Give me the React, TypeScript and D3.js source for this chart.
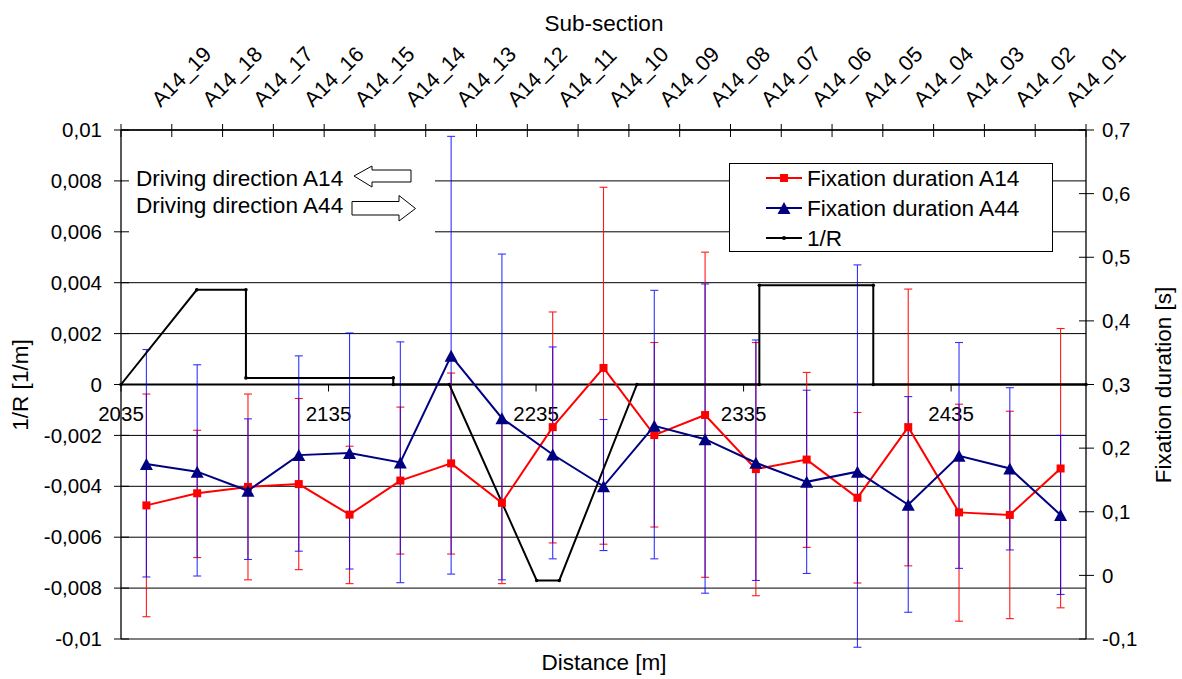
import React from 'react';
import * as d3 from 'd3';

const subSections = ['A14_19','A14_18','A14_17','A14_16','A14_15','A14_14','A14_13','A14_12','A14_11','A14_10','A14_09','A14_08','A14_07','A14_06','A14_05','A14_04','A14_03','A14_02','A14_01'];

const fixA14 = [0.110,0.129,0.139,0.1435,0.0955,0.149,0.176,0.114,0.233,0.326,0.2205,0.252,0.167,0.182,0.122,0.233,0.099,0.095,0.168];
const fixA14Low = [-0.065,0.028,-0.007,0.009,-0.013,0.0335,0.0335,-0.013,0.051,0.049,0.076,-0.003,-0.032,0.044,-0.012,0.015,-0.072,-0.068,-0.051];
const fixA14High = [0.285,0.228,0.285,0.278,0.203,0.2645,0.318,0.241,0.414,0.610,0.366,0.508,0.366,0.319,0.256,0.450,0.269,0.258,0.388];

const fixA44 = [0.175,0.163,0.133,0.189,0.1925,0.1775,0.345,0.247,0.190,0.140,0.235,0.214,0.177,0.147,0.163,0.111,0.188,0.168,0.095];
const fixA44Low = [-0.0025,-0.001,0.025,0.038,0.010,-0.0115,0.002,-0.007,0.026,0.039,0.026,-0.028,-0.008,0.003,-0.113,-0.058,0.011,0.040,-0.030];
const fixA44High = [0.355,0.331,0.246,0.345,0.381,0.367,0.690,0.505,0.359,0.245,0.448,0.458,0.370,0.291,0.488,0.281,0.366,0.295,0.220];

const curveDistance = [2035,2071.5,2095.2,2095.2,2166.2,2166.2,2193.2,2235.3,2246.2,2283.6,2342.6,2342.6,2397.5,2397.5,2500];
const curveInvR = [0,0.00372,0.00372,0.00026,0.00026,0,0,-0.0077,-0.0077,0,0,0.0039,0.0039,0,0];

const leftTicks = [-0.01,-0.008,-0.006,-0.004,-0.002,0,0.002,0.004,0.006,0.008,0.01];
const rightTicks = [-0.1,0,0.1,0.2,0.3,0.4,0.5,0.6,0.7];
const distanceTicks = [2035,2135,2235,2335,2435];

const FONT = '"Liberation Sans", Arial, Helvetica, sans-serif';
const RED = '#ff0000';
const NAVY = '#000080';
const BLUE = '#0000ff';

const L = 121, R = 1086, T = 130, B = 639;

export default function App() {
  const xDist = d3.scaleLinear().domain([2035, 2500]).range([L, R]);
  const xCat = d3.scaleBand().domain(subSections).range([L, R]);
  const cx = (s: string) => (xCat(s) as number) + xCat.bandwidth() / 2;
  const yLeft = d3.scaleLinear().domain([-0.01, 0.01]).range([B, T]);
  const yRight = d3.scaleLinear().domain([-0.1, 0.7]).range([B, T]);
  const fmt = (v: number) => String(v).replace('.', ',');

  const curvePts: [number, number][] = curveDistance.map((d, i) => [xDist(d), yLeft(curveInvR[i])]);
  const lineGen = d3.line();
  const redPts: [number, number][] = subSections.map((s, i) => [cx(s), yRight(fixA14[i])]);
  const bluePts: [number, number][] = subSections.map((s, i) => [cx(s), yRight(fixA44[i])]);

  const tri = (x: number, y: number, hw = 6.5, hh = 6) => `M${x},${y - hh}L${x + hw},${y + hh}L${x - hw},${y + hh}Z`;

  const errBars = (low: number[], high: number[], color: string, op: number) =>
    subSections.map((s, i) => {
      const x = cx(s);
      const y1 = yRight(low[i]);
      const y2 = yRight(high[i]);
      return (
        <g key={'e' + color + i} stroke={color} strokeWidth={1.1} opacity={op}>
          <line x1={x} x2={x} y1={y1} y2={y2} />
          <line x1={x - 4} x2={x + 4} y1={y1} y2={y1} />
          <line x1={x - 4} x2={x + 4} y1={y2} y2={y2} />
        </g>
      );
    });

  return (
    <svg width={1182} height={679} style={{ position: 'absolute', left: 0, top: 0, background: '#fff' }} fontFamily={FONT}>
      <rect x={0} y={0} width={1182} height={679} fill="#fff" />
      {/* gridlines */}
      {leftTicks.map((v) => (
        <line key={'g' + v} x1={L} x2={R} y1={yLeft(v)} y2={yLeft(v)} stroke="#000" strokeWidth={1} />
      ))}
      {/* text box background */}
      <rect x={L + 1} y={140} width={313} height={104} fill="#fff" />
      {/* left axis */}
      <line x1={L} x2={L} y1={T} y2={B} stroke="#000" strokeWidth={1.3} />
      {leftTicks.map((v) => (
        <g key={'lt' + v}>
          <line x1={L - 7} x2={L + 8} y1={yLeft(v)} y2={yLeft(v)} stroke="#000" />
          <text x={102} y={yLeft(v)} dy="0.35em" textAnchor="end" fontSize={20.5}>{fmt(v)}</text>
        </g>
      ))}
      {/* right axis */}
      <line x1={R} x2={R} y1={T} y2={B} stroke="#000" strokeWidth={1.3} />
      {rightTicks.map((v) => (
        <g key={'rt' + v}>
          <line x1={R - 7} x2={R + 8} y1={yRight(v)} y2={yRight(v)} stroke="#000" />
          <text x={1102} y={yRight(v)} dy="0.35em" textAnchor="start" fontSize={20.5}>{fmt(v)}</text>
        </g>
      ))}
      {/* top category axis */}
      <line x1={L} x2={R} y1={T} y2={T} stroke="#000" strokeWidth={1.3} />
      {subSections.map((s, i) => (
        <line key={'tt' + i} x1={xCat(s) as number} x2={xCat(s) as number} y1={T - 6} y2={T + 7} stroke="#000" />
      ))}
      <line x1={R} x2={R} y1={T - 6} y2={T + 7} stroke="#000" />
      {subSections.map((s) => (
        <text key={'tl' + s} transform={`translate(${cx(s) + 14},108) rotate(-45)`} textAnchor="start" fontSize={21.5}>{s}</text>
      ))}
      {/* bottom distance axis at 0 */}
      <line x1={L} x2={R} y1={yLeft(0)} y2={yLeft(0)} stroke="#000" strokeWidth={2} />
      {distanceTicks.map((d) => (
        <g key={'bt' + d}>
          <line x1={xDist(d)} x2={xDist(d)} y1={yLeft(0)} y2={yLeft(0) + 7} stroke="#000" />
          <text x={xDist(d)} y={421} textAnchor="middle" fontSize={20.5}>{d}</text>
        </g>
      ))}
      {/* axis titles */}
      <text x={604} y={31} textAnchor="middle" fontSize={22.5}>Sub-section</text>
      <text x={604} y={670} textAnchor="middle" fontSize={22.5}>Distance [m]</text>
      <text transform={`translate(28,385) rotate(-90)`} textAnchor="middle" fontSize={22.5}>1/R [1/m]</text>
      <text transform={`translate(1171,385) rotate(-90)`} textAnchor="middle" fontSize={22.5}>Fixation duration [s]</text>

      {/* driving direction text box */}
      <text x={136} y={186} fontSize={22.6}>Driving direction A14</text>
      <text x={136} y={213} fontSize={22.6}>Driving direction A44</text>
      <path d="M354,176L372,166L372,170L411,170L411,182L372,182L372,187Z" fill="#fff" stroke="#000" strokeWidth={1} />
      <path d="M352,201.5L399,201.5L399,195.5L415.5,208.5L399,221L399,215L352,215Z" fill="#fff" stroke="#000" strokeWidth={1} />

      {/* legend */}
      <rect x={729.5} y={163.5} width={323} height={88} fill="#fff" stroke="#000" strokeWidth={1} />
      <line x1={766} x2={802} y1={178} y2={178} stroke={RED} strokeWidth={2} />
      <rect x={780} y={174} width={8} height={8} fill={RED} />
      <text x={807} y={178} dy="0.35em" fontSize={22.6}>Fixation duration A14</text>
      <line x1={766} x2={802} y1={208} y2={208} stroke={NAVY} strokeWidth={2} />
      <path d={tri(784, 208)} fill={NAVY} />
      <text x={807} y={208} dy="0.35em" fontSize={22.6}>Fixation duration A44</text>
      <line x1={766} x2={802} y1={238} y2={238} stroke="#000" strokeWidth={2} />
      <circle cx={784} cy={238} r={2} fill="#000" />
      <text x={807} y={238} dy="0.35em" fontSize={22.6}>1/R</text>

      {/* error bars */}
      {errBars(fixA14Low, fixA14High, RED, 0.9)}
      {errBars(fixA44Low, fixA44High, BLUE, 0.8)}

      {/* 1/R */}
      <path d={lineGen(curvePts) as string} fill="none" stroke="#000" strokeWidth={2} strokeLinejoin="miter" />
      {curvePts.map((p, i) => (
        <circle key={'cp' + i} cx={p[0]} cy={p[1]} r={1.8} fill="#000" />
      ))}

      {/* A14 series */}
      <path d={lineGen(redPts) as string} fill="none" stroke={RED} strokeWidth={2} />
      {redPts.map((p, i) => (
        <rect key={'rp' + i} x={p[0] - 4} y={p[1] - 4} width={8} height={8} fill={RED} />
      ))}
      {/* A44 series */}
      <path d={lineGen(bluePts) as string} fill="none" stroke={NAVY} strokeWidth={2} />
      {bluePts.map((p, i) => (
        <path key={'bp' + i} d={tri(p[0], p[1])} fill={NAVY} />
      ))}
    </svg>
  );
}
